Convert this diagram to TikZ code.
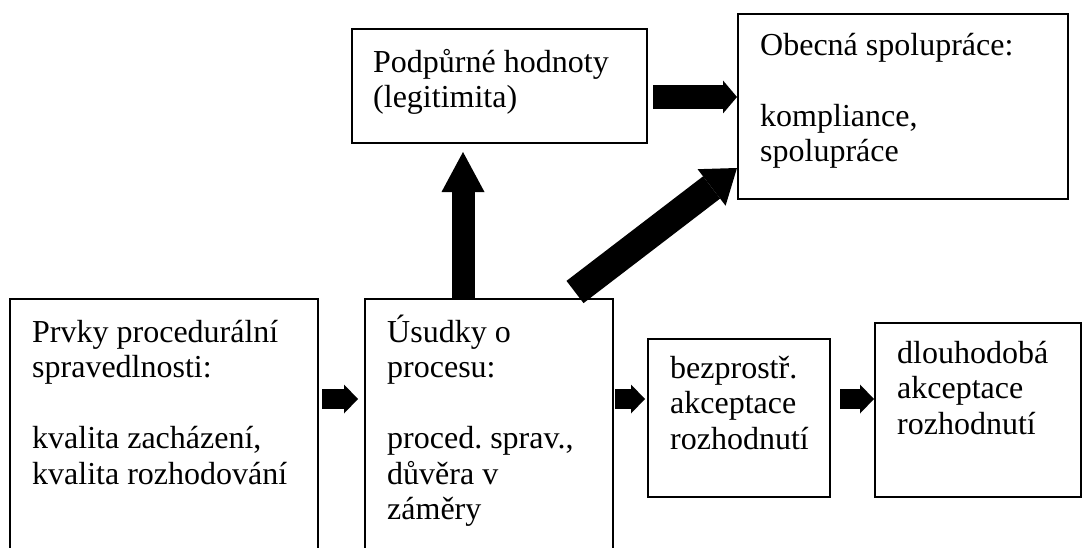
\documentclass[tikz,border=0pt]{standalone}
\usepackage{fontspec}
\setmainfont{Liberation Serif}
\usetikzlibrary{arrows.meta,calc}
\frenchspacing
\begin{document}
\begin{tikzpicture}[x=1pt,y=-1pt,
  box/.style={draw=black,line width=1.5pt,anchor=north west,inner sep=0pt,outer sep=0pt},
  txt/.style={anchor=north west,inner sep=0pt,align=left,font=\fontsize{32}{35.5}\selectfont\frenchspacing},
  smallarrow/.style={line width=20pt,-{Triangle[length=14pt,width=29pt,line width=0pt]}},
  midarrow/.style={line width=24pt,-{Triangle[length=14pt,width=33pt,line width=0pt]}},
  uparrow/.style={line width=23pt,-{Triangle[length=40pt,width=43pt,line width=0pt]}},
  diagarrow/.style={line width=28pt,-{Triangle[length=32pt,width=46pt,line width=0pt]}}]
\useasboundingbox (0,0) rectangle (1083,548);
\clip (0,0) rectangle (1083,548);
% boxes
\node[box,minimum width=308pt,minimum height=280pt] (A) at (10,299) {};
\node[box,minimum width=248pt,minimum height=280pt] (B) at (365,299) {};
\node[box,minimum width=182pt,minimum height=158pt] (C) at (648,339) {};
\node[box,minimum width=206pt,minimum height=174pt] (D) at (875,323) {};
\node[box,minimum width=295pt,minimum height=114pt] (E) at (352,29) {};
\node[box,minimum width=330pt,minimum height=185pt] (F) at (738,14) {};
% texts
\node[txt] (At) at ($(A.north west)+(22,13)$) {\rule{0pt}{30pt}Prvky procedurální\\spravedlnosti:\\[35.5pt]kvalita zacházení,\\kvalita rozhodování};
\node[txt] (Bt) at ($(B.north west)+(22,13)$) {\rule{0pt}{30pt}Úsudky o\\procesu:\\[35.5pt]proced. sprav.,\\důvěra v\\záměry};
\node[txt] (Ct) at ($(C.north west)+(22,9)$) {\rule{0pt}{30pt}bezprostř.\\akceptace\\rozhodnutí};
\node[txt] (Dt) at ($(D.north west)+(22,10)$) {\rule{0pt}{30pt}dlouhodobá\\akceptace\\rozhodnutí};
\node[txt] (Et) at ($(E.north west)+(21,13)$) {\rule{0pt}{30pt}Podpůrné hodnoty\\(legitimita)};
\node[txt] (Ft) at ($(F.north west)+(22,11)$) {\rule{0pt}{30pt}Obecná spolupráce:\\[35.5pt]kompliance,\\spolupráce};
% arrows
\draw[smallarrow] ($(A.north east)+(4,100)$) -- ($(B.north west)+(-7,100)$);
\draw[smallarrow] ($(B.north east)+(2,100)$) -- ($(C.north west)+(-3,60)$);
\draw[smallarrow] ($(C.north east)+(10,60)$) -- ($(D.north west)+(-1,76)$);
\draw[midarrow] ($(E.north east)+(6,68)$) -- ($(F.north west)+(-1,83)$);
\draw[uparrow] ($(B.north west)+(98,0)$) -- ($(E.north west)+(111,123)$);
\draw[diagarrow] ($(B.north west)+(210,-7)$) -- ($(F.north west)+(-1,154)$);
\end{tikzpicture}
\end{document}
